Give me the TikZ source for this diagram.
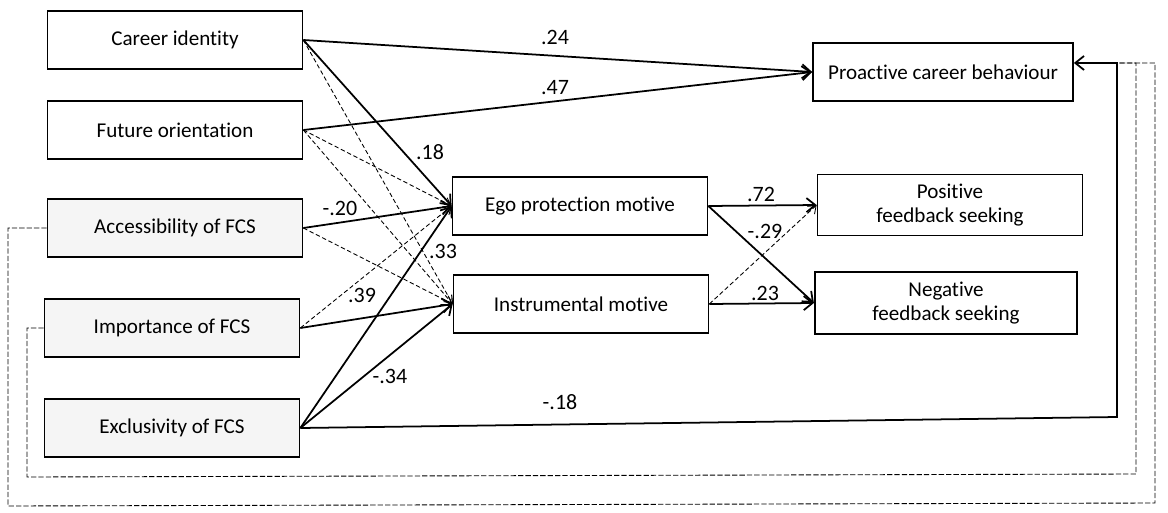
\documentclass[tikz,border=0pt]{standalone}
\usepackage{fontspec}
\setmainfont{Carlito}[Ligatures=NoCommon]
\usetikzlibrary{arrows.meta,positioning,calc}

\begin{document}
\begin{tikzpicture}[x=0.02cm, y=-0.02cm,
    varbox/.style={rectangle, draw=black, line width=1pt, fill=white, minimum width=5.1cm, minimum height=1.17cm, align=center, font=\fontsize{12}{14}\selectfont, inner sep=2pt},
    fcsbox/.style={varbox, fill=black!4},
    sigpath/.style={line width=1pt, -{Straight Barb[length=5pt,width=8pt]}},
    nspath/.style={line width=0.5pt, dash pattern=on 2.5pt off 1.5pt, -{Straight Barb[length=4pt,width=6pt]}},
    loopline/.style={line width=0.5pt, dash pattern=on 3pt off 1.2pt},
    coef/.style={font=\fontsize{12.5}{14}\selectfont, inner sep=1pt}
]
    \useasboundingbox (0,0) rectangle (1168,513);

    \node[varbox] (ci) at (175,40) {Career identity};
    \node[varbox] (fo) at (175,130) {Future orientation};
    \node[fcsbox] (acc) at (175,228) {Accessibility of FCS};
    \node[fcsbox] (imp) at (172,328) {Importance of FCS};
    \node[fcsbox] (exc) at (172,428) {Exclusivity of FCS};

    \node[varbox] (ego) at (580,206) {Ego protection motive};
    \node[varbox] (ins) at (581,304) {Instrumental motive};

    \node[varbox, minimum width=5.2cm] (pcb) at (943,72) {Proactive career behaviour};
    \node[varbox, minimum width=5.3cm, minimum height=1.22cm] (pos) at (950,205) {Positive\\feedback seeking};
    \node[varbox, minimum width=5.25cm, minimum height=1.25cm] (neg) at (946,303) {Negative\\feedback seeking};

    \coordinate (rt) at (1117,63);
    \coordinate (rb) at (1117,417);
    \coordinate (olb) at (8,506);
    \coordinate (orb) at (1155,503);
    \coordinate (ilb) at (27,477);
    \coordinate (irb) at (1136,474);

    % direct paths
    \draw[sigpath] (ci.east) -- (pcb.west);
    \draw[sigpath] (fo.east) -- (pcb.west);
    \draw[sigpath] (exc.east) -- (rb) -- (rt) -- (rt -| pcb.east);

    % predictors to motives
    \draw[sigpath] (ci.east) -- (ego.west);
    \draw[sigpath] (acc.east) -- (ego.west);
    \draw[sigpath] (exc.east) -- (ego.west);
    \draw[sigpath] (imp.east) -- (ins.west);
    \draw[sigpath] (exc.east) -- (ins.west);
    \draw[nspath] (ci.east) -- (ins.west);
    \draw[nspath] (fo.east) -- (ego.west);
    \draw[nspath] (fo.east) -- (ins.west);
    \draw[nspath] (acc.east) -- (ins.west);
    \draw[nspath] (imp.east) -- (ego.west);

    % motives to feedback seeking
    \draw[sigpath] (ego.east) -- (pos.west);
    \draw[sigpath] (ego.east) -- (neg.west);
    \draw[sigpath] (ins.east) -- (neg.west);
    \draw[nspath] (ins.east) -- (pos.west);

    % non-significant loops to proactive behaviour
    \draw[loopline] (acc.west) -| (olb) -- (orb) |- (rt);
    \draw[loopline] (imp.west) -| (ilb) -- (irb) |- (rt);

    \node[coef] (c24) at (555,37) {.24};
    \node[coef] (c47) at (555,88) {.47};
    \node[coef] (c18) at (430,152) {.18};
    \node[coef] (c20) at (340,208) {-.20};
    \node[coef] (c33) at (443,251) {.33};
    \node[coef] (c39) at (362,295) {.39};
    \node[coef] (c34) at (390,376) {-.34};
    \node[coef] (c18b) at (560,402) {-.18};
    \node[coef] (c72) at (761,194) {.72};
    \node[coef] (c29) at (765,231) {-.29};
    \node[coef] (c23) at (765,293) {.23};
\end{tikzpicture}
\end{document}
